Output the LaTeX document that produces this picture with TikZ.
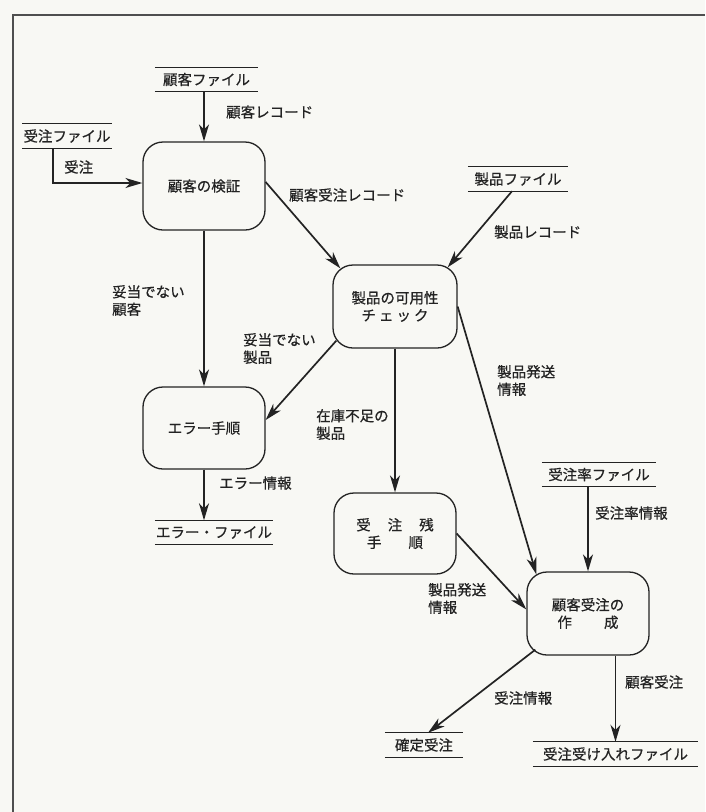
\documentclass[tikz,border=0pt]{standalone}
\usepackage{fontspec}
\setmainfont{Noto Sans CJK JP}[FakeBold=0.6]
\usetikzlibrary{arrows.meta}
\definecolor{paper}{RGB}{248,248,244}
\definecolor{ink}{RGB}{35,35,35}
\begin{document}
\begin{tikzpicture}[x=1pt,y=-1pt,
  every node/.style={font=\fontsize{14.5}{17.5}\selectfont, text=ink, inner sep=0pt},
  proc/.style={draw=ink, line width=1.3pt, rounded corners=20pt, minimum width=122pt, minimum height=84pt, align=center},
  store/.style={minimum height=24pt, align=center},
  storeline/.style={draw=ink, line width=1.3pt},
  lbl/.style={anchor=west, align=left},
  flow/.style={draw=ink, line width=1.7pt, -{Stealth[length=17pt,width=10pt,inset=5pt]}}
]
\fill[paper] (0,0) rectangle (705,812);
\useasboundingbox (0,0) rectangle (705,812);
\draw[ink!80, line width=1.2pt] (13,812) -- (13,15) -- (705,15);

% stores
\node[store, minimum width=103pt] (cf) at (206.5,79.5) {顧客ファイル};
\node[store, minimum width=89pt] (of) at (67,136) {受注ファイル};
\node[store, minimum width=100pt] (pf) at (518,179) {製品ファイル};
\node[store, minimum width=118pt] (ef) at (214,532.5) {エラー・ファイル};
\node[store, minimum width=114pt] (rf) at (599,474.5) {受注率ファイル};
\node[store, minimum width=78pt] (kt) at (424,745) {確定受注};
\node[store, minimum width=165pt] (uf) at (615.5,754) {受注受け入れファイル};
\foreach \n in {cf,of,pf,ef,rf,kt,uf}
  \draw[storeline] (\n.north west) -- (\n.north east) (\n.south west) -- (\n.south east);

% processes
\node[proc, minimum height=88pt] (kv) at (204,186) {顧客の検証};
\node[proc, minimum width=124pt, minimum height=83pt] (sk) at (395,306.5) {製品の可用性\\チ\hspace{3pt}ェ\hspace{3pt}ッ\hspace{3pt}ク};
\node[proc, minimum height=82pt] (er) at (204,428) {エラー手順};
\node[proc, minimum height=81pt] (jz) at (395,533.5) {受\hspace{17pt}注\hspace{17pt}残\\手\hspace{27pt}順};
\node[proc, minimum height=83pt] (ks) at (588,613.5) {顧客受注の\\作\hspace{32pt}成};

% labels
\node[lbl] (l1) at (226,112) {顧客レコード};
\node[lbl] (l2) at (64,167) {受注};
\node[lbl] (l3) at (289,195) {顧客受注レコード};
\node[lbl] (l4) at (494,232) {製品レコード};
\node[lbl] (l5) at (112,300.5) {妥当でない\\顧客};
\node[lbl] (l6) at (243,348.5) {妥当でない\\製品};
\node[lbl] (l7) at (316,424.5) {在庫不足の\\製品};
\node[lbl] (l8) at (219,483) {エラー情報};
\node[lbl] (l9) at (497,380.5) {製品発送\\情報};
\node[lbl] (l10) at (595,513) {受注率情報};
\node[lbl] (l11) at (428,598.5) {製品発送\\情報};
\node[lbl] (l12) at (494,698) {受注情報};
\node[lbl] (l13) at (625,682) {顧客受注};

% flows
\draw[flow] (kv.north |- cf.south) -- (kv.north);
\draw[flow] ([xshift=-14pt]of.south) |- ([yshift=3pt]kv.west);
\draw[flow] ([yshift=4pt]kv.east) -- ([shift={(8pt,-4pt)}]sk.north west);
\draw[flow] ([xshift=-6pt]pf.south) -- ([shift={(-10pt,-3pt)}]sk.north east);
\draw[flow] (kv.south) -- (er.north);
\draw[flow] ([shift={(4pt,8pt)}]sk.south west) -- ([yshift=8pt]er.east);
\draw[flow] (er.south) -- (er.south |- ef.north);
\draw[flow] (sk.south) -- (sk.south |- jz.north);
\draw[flow] (sk.east) -- ([shift={(10pt,-3pt)}]ks.north west);
\draw[flow] (jz.east) -- ([yshift=4pt]ks.west);
\draw[flow] (ks.north |- rf.south) -- (ks.north);
\draw[flow] ([shift={(9pt,6pt)}]ks.south west) -- ([xshift=4pt]kt.north);
\draw[flow] (uf.north |- ks.south) -- (uf.north);
\end{tikzpicture}
\end{document}
